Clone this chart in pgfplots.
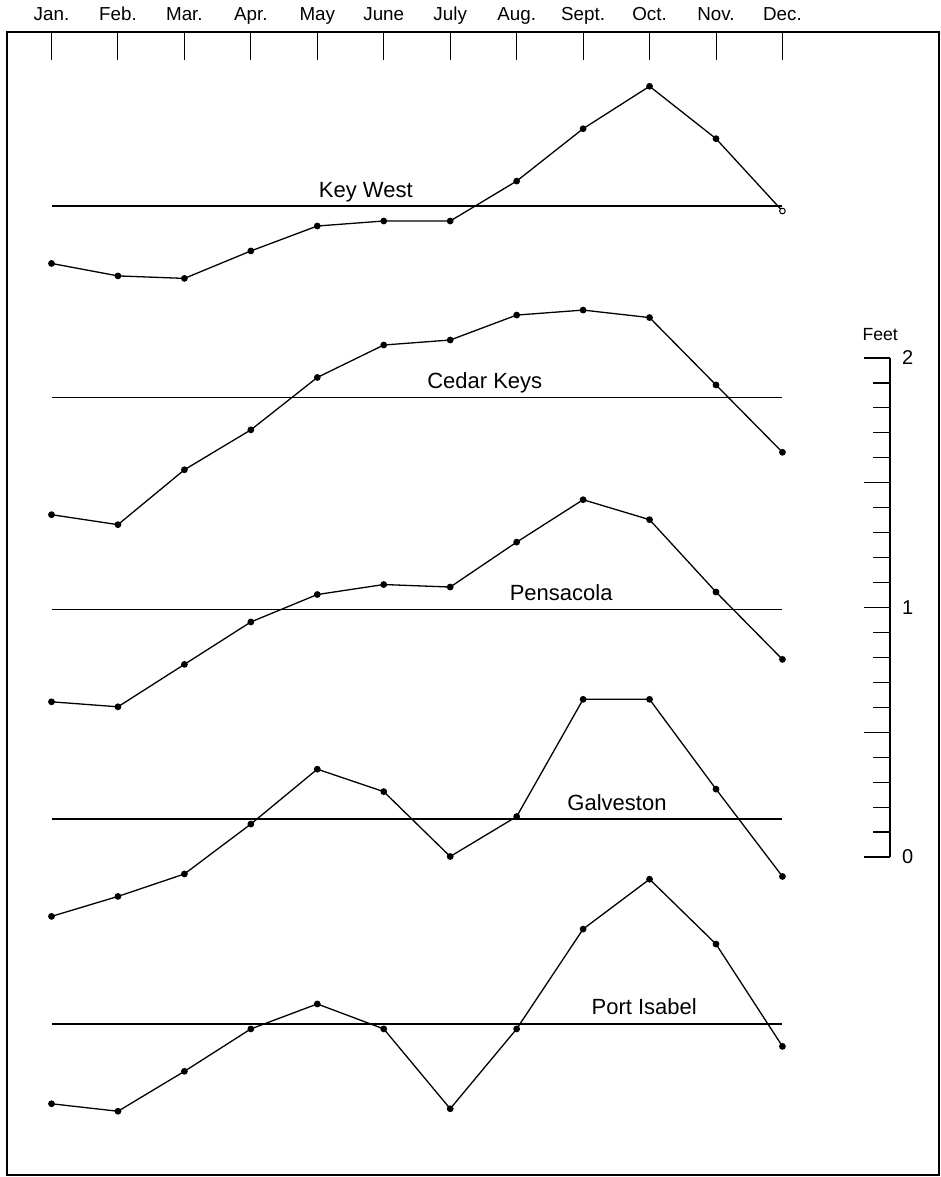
\documentclass[border=0pt]{standalone}
\usepackage{fontspec}
\setmainfont{Liberation Sans}
\usepackage{pgfplots}
\pgfplotsset{compat=1.18}
\usepackage{pgfplotstable}

% monthly sea level relative to each station's annual mean (feet)
\pgfplotstableread{
m  kw    ck    pe    ga    pi
0  -0.23 -0.47 -0.37 -0.39 -0.32
1  -0.28 -0.51 -0.39 -0.31 -0.35
2  -0.29 -0.29 -0.22 -0.22 -0.19
3  -0.18 -0.13 -0.05 -0.02 -0.02
4  -0.08  0.08  0.06  0.20  0.08
5  -0.06  0.21  0.10  0.11 -0.02
6  -0.06  0.23  0.09 -0.15 -0.34
7   0.10  0.33  0.27  0.01 -0.02
8   0.31  0.35  0.44  0.48  0.38
9   0.48  0.32  0.36  0.48  0.58
10  0.27  0.05  0.07  0.12  0.32
11 -0.02 -0.22 -0.20 -0.23 -0.09
}\levels

\def\okw{2.609}
\def\ock{1.842}
\def\ope{0.992}
\def\oga{0.152}
\def\opi{-0.669}
\def\sx{12.618}
\def\sxa{12.227}
\def\sxb{12.362}

\pgfplotsset{stn/.style={black, solid, line width=0.65pt, mark=*, mark size=1.35pt, mark options={solid, fill=black}}}

\begin{document}
\begin{tikzpicture}
\begin{axis}[
  at={(3.5pt,1pt)}, anchor=south west,
  scale only axis, width=466pt, height=571.5pt,
  xmin=-0.6697, xmax=13.356, ymin=-1.2745, ymax=3.3066,
  clip=false,
  axis line style={line width=0.9pt, black},
  xtick={0,1,2,3,4,5,6,7,8,9,10,11},
  xticklabels={Jan.,Feb.,Mar.,Apr.,May,June,July,Aug.,Sept.,Oct.,Nov.,Dec.},
  xtick pos=right, xticklabel pos=right,
  ytick=\empty,
  tick align=inside,
  major tick length=14pt,
  xtick style={black, line width=0.5pt},
  xticklabel style={anchor=base, yshift=5.5pt, font=\fontsize{9.4}{11}\selectfont},
]
% mean lines
\draw[line width=0.7pt] (axis cs:0,\okw) -- (axis cs:11,\okw);
\draw[line width=0.7pt] (axis cs:0,\ock) -- (axis cs:11,\ock);
\draw[line width=0.7pt] (axis cs:0,\ope) -- (axis cs:11,\ope);
\draw[line width=0.7pt] (axis cs:0,\oga) -- (axis cs:11,\oga);
\draw[line width=0.7pt] (axis cs:0,\opi) -- (axis cs:11,\opi);

\addplot[stn, mark indices={1,2,3,4,5,6,7,8,9,10,11}] table[x=m, y expr=\thisrow{kw}+\okw]{\levels};
\addplot[black, only marks, mark=*, mark size=1.4pt, mark options={fill=white, line width=0.5pt}, restrict x to domain=10.5:11.5] table[x=m, y expr=\thisrow{kw}+\okw]{\levels};
\addplot[stn] table[x=m, y expr=\thisrow{ck}+\ock]{\levels};
\addplot[stn] table[x=m, y expr=\thisrow{pe}+\ope]{\levels};
\addplot[stn] table[x=m, y expr=\thisrow{ga}+\oga]{\levels};
\addplot[stn] table[x=m, y expr=\thisrow{pi}+\opi]{\levels};

% station names
\node[anchor=base, yshift=4.5pt, font=\fontsize{11}{13}\selectfont] at (axis cs:4.73,\okw) {Key West};
\node[anchor=base, yshift=4.5pt, font=\fontsize{11}{13}\selectfont] at (axis cs:6.52,\ock) {Cedar Keys};
\node[anchor=base, yshift=4.5pt, font=\fontsize{11}{13}\selectfont] at (axis cs:7.67,\ope) {Pensacola};
\node[anchor=base, yshift=4.5pt, font=\fontsize{11}{13}\selectfont] at (axis cs:8.51,\oga) {Galveston};
\node[anchor=base, yshift=4.5pt, font=\fontsize{11}{13}\selectfont] at (axis cs:8.92,\opi) {Port Isabel};

% scale bar in feet
\draw[line width=0.6pt] (axis cs:\sx,0) -- (axis cs:\sx,2);
\draw[line width=0.6pt] (axis cs:\sxa,0) -- (axis cs:\sx,0);
\draw[line width=0.6pt] (axis cs:\sxa,0.5) -- (axis cs:\sx,0.5);
\draw[line width=0.6pt] (axis cs:\sxa,1) -- (axis cs:\sx,1);
\draw[line width=0.6pt] (axis cs:\sxa,1.5) -- (axis cs:\sx,1.5);
\draw[line width=0.6pt] (axis cs:\sxa,2) -- (axis cs:\sx,2);
\draw[line width=0.6pt] (axis cs:\sxb,0.1) -- (axis cs:\sx,0.1);
\draw[line width=0.6pt] (axis cs:\sxb,0.2) -- (axis cs:\sx,0.2);
\draw[line width=0.6pt] (axis cs:\sxb,0.3) -- (axis cs:\sx,0.3);
\draw[line width=0.6pt] (axis cs:\sxb,0.4) -- (axis cs:\sx,0.4);
\draw[line width=0.6pt] (axis cs:\sxb,0.6) -- (axis cs:\sx,0.6);
\draw[line width=0.6pt] (axis cs:\sxb,0.7) -- (axis cs:\sx,0.7);
\draw[line width=0.6pt] (axis cs:\sxb,0.8) -- (axis cs:\sx,0.8);
\draw[line width=0.6pt] (axis cs:\sxb,0.9) -- (axis cs:\sx,0.9);
\draw[line width=0.6pt] (axis cs:\sxb,1.1) -- (axis cs:\sx,1.1);
\draw[line width=0.6pt] (axis cs:\sxb,1.2) -- (axis cs:\sx,1.2);
\draw[line width=0.6pt] (axis cs:\sxb,1.3) -- (axis cs:\sx,1.3);
\draw[line width=0.6pt] (axis cs:\sxb,1.4) -- (axis cs:\sx,1.4);
\draw[line width=0.6pt] (axis cs:\sxb,1.6) -- (axis cs:\sx,1.6);
\draw[line width=0.6pt] (axis cs:\sxb,1.7) -- (axis cs:\sx,1.7);
\draw[line width=0.6pt] (axis cs:\sxb,1.8) -- (axis cs:\sx,1.8);
\draw[line width=0.6pt] (axis cs:\sxb,1.9) -- (axis cs:\sx,1.9);
\node[anchor=west, xshift=2.5pt, font=\fontsize{10}{12}\selectfont] at (axis cs:\sx,2) {2};
\node[anchor=west, xshift=2.5pt, font=\fontsize{10}{12}\selectfont] at (axis cs:\sx,1) {1};
\node[anchor=west, xshift=2.5pt, font=\fontsize{10}{12}\selectfont] at (axis cs:\sx,0) {0};
\node[anchor=base, font=\fontsize{8.8}{10}\selectfont] at (axis cs:12.47,2.07) {Feet};
\end{axis}
\pgfresetboundingbox
\useasboundingbox (0,0) rectangle (470.5pt,588.5pt);
\end{tikzpicture}
\end{document}
